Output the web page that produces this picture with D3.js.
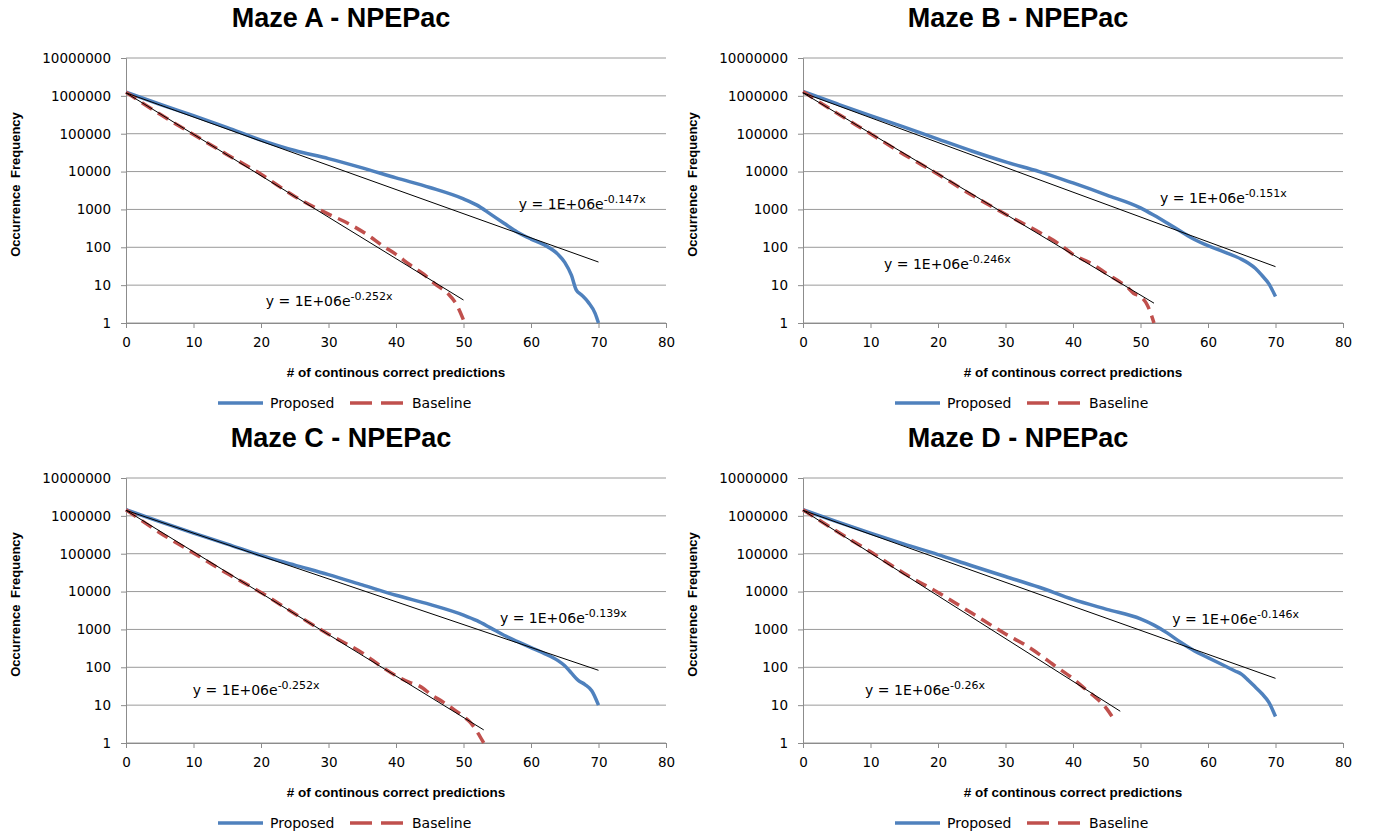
<!DOCTYPE html>
<html>
<head>
<meta charset="utf-8">
<script src="https://cdn.jsdelivr.net/npm/d3@7"></script>
<style>
  body { margin: 0; background: #fff; }
  svg { display: block; }
</style>
</head>
<body>
<svg id="chart"></svg>
<script>
// axis ticks shared by the four panels
var xTicks = [0, 10, 20, 30, 40, 50, 60, 70, 80];
var yTicks = [1, 10, 100, 1000, 10000, 100000, 1000000, 10000000];
var yTickLabels = ["1", "10", "100", "1000", "10000", "100000", "1000000", "10000000"];
var seriesNames = ["Proposed", "Baseline"];
var panelTitles = ["Maze A - NPEPac", "Maze B - NPEPac", "Maze C - NPEPac", "Maze D - NPEPac"];

// Maze A
var propXA = [0, 5, 10, 15, 20, 25, 30, 35, 40, 45, 50, 52, 54, 56, 58, 60, 62, 64, 65, 66, 66.7, 67.5, 68.5, 69.5, 70];
var propYA = [1250000, 600000, 300000, 145000, 68000, 36000, 22000, 12500, 6800, 3800, 1900, 1300, 750, 430, 250, 165, 115, 65, 40, 18, 7.5, 5.5, 3.5, 1.8, 1];
var baseXA = [0, 5, 10, 15, 20, 25, 30, 33, 36, 38, 40, 42, 44, 46, 47.7, 49, 50];
var baseYA = [1250000, 330000, 95000, 28000, 8500, 2200, 750, 420, 200, 110, 65, 35, 20, 10, 6, 3, 1.2];

// Maze B
var propXB = [0, 5, 10, 15, 20, 25, 30, 35, 40, 45, 50, 52, 54, 56, 58, 60, 62, 64, 65, 66, 67, 68, 69, 70];
var propYB = [1300000, 620000, 300000, 150000, 72000, 35000, 18000, 10000, 5000, 2400, 1100, 700, 430, 260, 160, 110, 80, 58, 48, 38, 28, 18, 11, 5];
var baseXB = [0, 5, 10, 15, 20, 25, 30, 35, 38, 40, 43, 45, 47, 48, 49, 50, 51, 52];
var baseYB = [1300000, 350000, 100000, 28000, 8500, 2400, 750, 250, 120, 65, 35, 20, 12, 9, 6, 5, 3, 1];

// Maze C
var propXC = [0, 5, 10, 15, 20, 25, 30, 35, 40, 45, 50, 52, 54, 56, 58, 60, 62, 64, 65, 66, 67, 68, 69, 70];
var propYC = [1450000, 700000, 350000, 180000, 90000, 50000, 28000, 15000, 8000, 4600, 2400, 1700, 1100, 700, 480, 330, 230, 150, 110, 70, 45, 35, 24, 10];
var baseXC = [0, 5, 10, 15, 20, 25, 30, 35, 38, 40, 42, 43, 44, 45, 47, 48, 50, 51, 52, 53];
var baseYC = [1450000, 360000, 105000, 30000, 9500, 2600, 750, 240, 100, 60, 40, 35, 28, 20, 12, 9, 5, 3.5, 2, 1];

// Maze D
var propXD = [0, 5, 10, 15, 20, 25, 30, 35, 40, 45, 50, 52, 54, 56, 58, 60, 62, 64, 65, 66, 67, 68, 69, 70];
var propYD = [1450000, 700000, 350000, 180000, 95000, 48000, 25000, 13000, 6200, 3400, 1900, 1300, 800, 450, 270, 180, 120, 80, 65, 45, 30, 20, 12, 5];
var baseXD = [0, 5, 10, 15, 20, 25, 30, 33, 35, 37, 40, 42, 43, 45, 46.3];
var baseYD = [1450000, 390000, 112000, 30000, 9500, 2700, 760, 380, 220, 120, 50, 25, 18, 8, 3.6];

// exponential trendlines: [coefficient, rate, last x]  (proposed, baseline)
var trendA = [[1.2e6, 0.147, 70], [1.2e6, 0.252, 50]];
var trendB = [[1.2e6, 0.151, 70], [1.2e6, 0.246, 52]];
var trendC = [[1.4e6, 0.139, 70], [1.4e6, 0.252, 53]];
var trendD = [[1.4e6, 0.146, 70], [1.4e6, 0.26, 47]];
var trendLabels = [["-0.147x", "-0.252x"], ["-0.151x", "-0.246x"], ["-0.139x", "-0.252x"], ["-0.146x", "-0.26x"]];

var W = 1377, H = 834;
var plotW = 540, plotH = 265;
var blue = "#4f81bd", red = "#c0504d";

var svg = d3.select("#chart").attr("width", W).attr("height", H);

var panels = [
    { title: panelTitles[0], col: 0, row: 0, prop: [propXA, propYA], base: [baseXA, baseYA], trend: trendA, lbl: trendLabels[0],
      lblPos: [[58.2, 1000], [20.7, 2.8]] },
    { title: panelTitles[1], col: 1, row: 0, prop: [propXB, propYB], base: [baseXB, baseYB], trend: trendB, lbl: trendLabels[1],
      lblPos: [[52.9, 1480], [12, 27]] },
    { title: panelTitles[2], col: 0, row: 1, prop: [propXC, propYC], base: [baseXC, baseYC], trend: trendC, lbl: trendLabels[2],
      lblPos: [[55.4, 1480], [9.9, 18]] },
    { title: panelTitles[3], col: 1, row: 1, prop: [propXD, propYD], base: [baseXD, baseYD], trend: trendD, lbl: trendLabels[3],
      lblPos: [[54.7, 1400], [9.2, 18]] }
];

var x = d3.scaleLinear().domain([0, 80]).range([0, plotW]);
var y = d3.scaleLog().domain([1, 1e7]).range([plotH, 0]);

var line = d3.line()
    .x(d => x(d[0]))
    .y(d => y(d[1]))
    .curve(d3.curveMonotoneX);

function zip(xs, ys) {
    return xs.map((v, i) => [v, ys[i]]);
}

function drawPanel(p) {
    var left = 126 + p.col * 677;
    var top = 58 + p.row * 420;
    var g = svg.append("g").attr("transform", `translate(${left},${top})`);

    // title
    g.append("text")
        .attr("x", 215).attr("y", -31)
        .attr("text-anchor", "middle")
        .style("font", "bold 27px 'Liberation Sans', Arial, sans-serif")
        .text(p.title);

    // horizontal gridlines
    g.append("g").selectAll("line")
        .data(yTicks)
        .join("line")
        .attr("x1", 0).attr("x2", plotW)
        .attr("y1", d => y(d)).attr("y2", d => y(d))
        .attr("stroke", "#9a9a9a").attr("stroke-width", 1);

    // y axis
    var yAxis = d3.axisLeft(y).tickValues(yTicks)
        .tickFormat((d, i) => yTickLabels[i]).tickSize(5).tickPadding(10);
    var ya = g.append("g").call(yAxis);
    // x axis
    var xAxis = d3.axisBottom(x).tickValues(xTicks).tickSize(5).tickPadding(9);
    var xa = g.append("g").attr("transform", `translate(0,${plotH})`).call(xAxis);

    [ya, xa].forEach(a => {
        a.select(".domain").attr("stroke", "#8c8c8c");
        a.selectAll(".tick line").attr("stroke", "#8c8c8c");
        a.selectAll("text")
            .style("font-family", "'DejaVu Sans', sans-serif")
            .style("font-size", "13.5px")
            .attr("fill", "#000");
    });

    // axis titles
    g.append("text")
        .attr("x", plotW / 2).attr("y", plotH + 54)
        .attr("text-anchor", "middle")
        .style("font", "bold 13.5px 'Liberation Sans', Arial, sans-serif")
        .text("# of continous correct predictions");

    g.append("text")
        .attr("transform", `translate(-106,${plotH / 2 - 6}) rotate(-90)`)
        .attr("text-anchor", "middle")
        .style("font", "bold 13px 'Liberation Sans', Arial, sans-serif")
        .style("word-spacing", "3px")
        .text("Occurrence Frequency");

    // curves
    g.append("path")
        .datum(zip(p.prop[0], p.prop[1]))
        .attr("d", line)
        .attr("fill", "none")
        .attr("stroke", blue)
        .attr("stroke-width", 3.5)
        .attr("stroke-linejoin", "round");

    g.append("path")
        .datum(zip(p.base[0], p.base[1]))
        .attr("d", line)
        .attr("fill", "none")
        .attr("stroke", red)
        .attr("stroke-width", 3.5)
        .attr("stroke-dasharray", "12,7");

    // trendlines (straight on the log scale)
    p.trend.forEach(t => {
        var pts = [[0, t[0]], [t[2], t[0] * Math.exp(-t[1] * t[2])]];
        g.append("path")
            .datum(pts)
            .attr("d", d3.line().x(d => x(d[0])).y(d => y(d[1])))
            .attr("stroke", "#000")
            .attr("stroke-width", 1)
            .attr("fill", "none");
    });

    // trendline equations
    p.lblPos.forEach((pos, i) => {
        var t = g.append("text")
            .attr("x", x(pos[0])).attr("y", y(pos[1]))
            .style("font-family", "'DejaVu Sans', sans-serif")
            .style("font-size", "14px");
        t.append("tspan").text("y = 1E+06e");
        t.append("tspan").attr("dy", -6).style("font-size", "11px").text(p.lbl[i]);
    });

    // legend
    var lg = g.append("g").attr("transform", `translate(0,${plotH + 80})`);
    lg.append("line").attr("x1", 92).attr("x2", 137).attr("y1", 0).attr("y2", 0)
        .attr("stroke", blue).attr("stroke-width", 3.5);
    lg.append("text").attr("x", 144).attr("y", 5)
        .style("font", "14px 'DejaVu Sans', sans-serif").text(seriesNames[0]);
    lg.append("line").attr("x1", 224).attr("x2", 277).attr("y1", 0).attr("y2", 0)
        .attr("stroke", red).attr("stroke-width", 3.5).attr("stroke-dasharray", "22,9");
    lg.append("text").attr("x", 286).attr("y", 5)
        .style("font", "14px 'DejaVu Sans', sans-serif").text(seriesNames[1]);
}

panels.forEach(drawPanel);
</script>
</body>
</html>
